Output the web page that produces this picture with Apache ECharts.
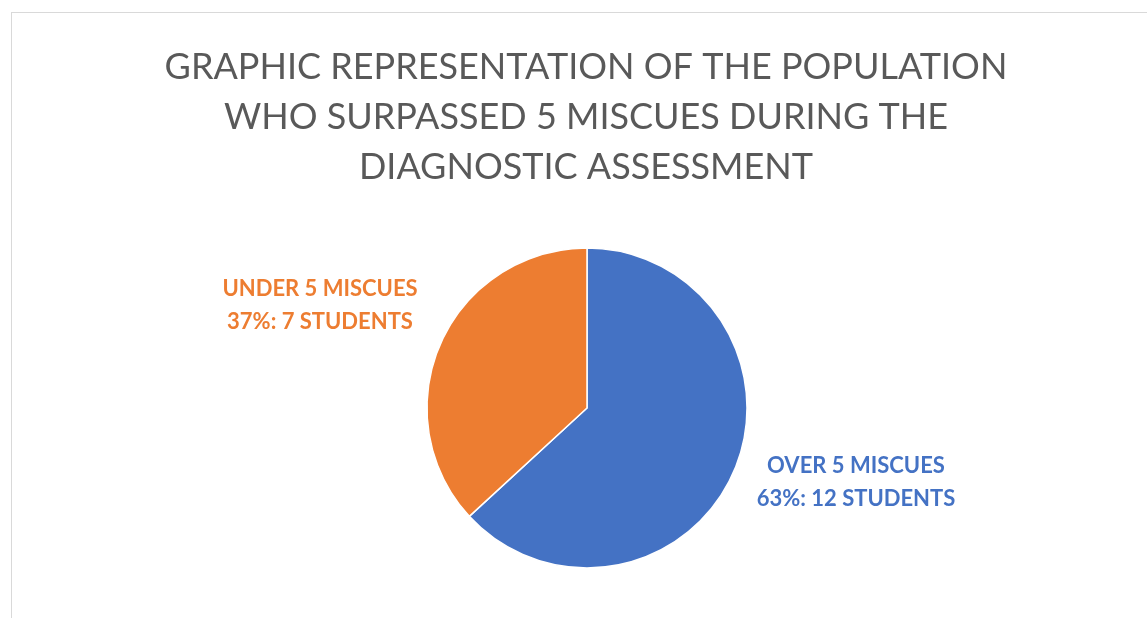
<!DOCTYPE html>
<html lang="en">
<head>
    <meta charset="UTF-8">
    <title>Population who surpassed 5 miscues</title>
    <script src="https://cdn.jsdelivr.net/npm/echarts@6/dist/echarts.min.js"></script>
    <style>
        body, html {
            height: 100%;
            margin: 0;
            background: #fff;
        }

        #frame {
            position: absolute;
            left: 11px;
            top: 12px;
            right: -2px;
            bottom: -2px;
            border-left: 1px solid #d9d9d9;
            border-top: 1px solid #d9d9d9;
        }

        #chart {
            position: absolute;
            left: 11px;
            top: 0;
            width: 1150px;
            height: 618px;
        }
    </style>
</head>
<body>
<div id="frame"></div>
<div id="chart"></div>
<script>
    // data
    const categories = ['OVER 5 MISCUES', 'UNDER 5 MISCUES'];
    const students = [12, 7];
    const percents = [63, 37];
    const colors = ['#4472C4', '#ED7D31'];

    const chart = echarts.init(document.getElementById('chart'));

    // where each label sits (centre of the text block, chart coords)
    const labelPos = [
        {x: 845, y: 482},
        {x: 309, y: 305}
    ];

    const option = {
        title: {
            text: 'GRAPHIC REPRESENTATION OF THE POPULATION\nWHO SURPASSED 5 MISCUES DURING THE\nDIAGNOSTIC ASSESSMENT',
            left: 'center',
            top: 37,
            textStyle: {
                fontFamily: 'Lato',
                fontSize: 36,
                fontWeight: 'normal',
                color: '#595959',
                lineHeight: 50
            }
        },
        series: [
            {
                type: 'pie',
                center: [576, 408],
                radius: 160,
                startAngle: 90,
                clockwise: true,
                animation: false,
                itemStyle: {
                    borderColor: '#fff',
                    borderWidth: 1.5
                },
                labelLine: {show: false},
                label: {
                    show: true,
                    position: 'outside',
                    fontFamily: 'Lato',
                    fontSize: 22,
                    fontWeight: 'bold',
                    lineHeight: 33,
                    align: 'center',
                    formatter: function (p) {
                        return p.name + '\n' + percents[p.dataIndex] + '%: ' + p.value + ' STUDENTS';
                    }
                },
                labelLayout: function (params) {
                    const pos = labelPos[params.dataIndex];
                    return {
                        x: pos.x,
                        y: pos.y,
                        align: 'center',
                        verticalAlign: 'middle'
                    };
                },
                data: categories.map((name, i) => ({
                    name: name,
                    value: students[i],
                    itemStyle: {color: colors[i]},
                    label: {color: colors[i]}
                }))
            }
        ]
    };

    chart.setOption(option);
</script>
</body>
</html>
